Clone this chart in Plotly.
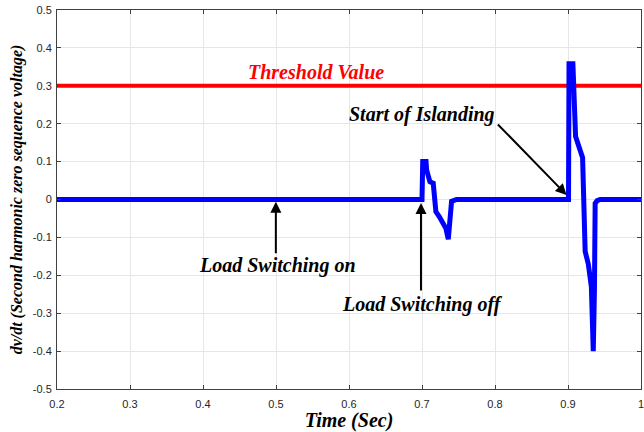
import plotly.graph_objects as go

# Time samples (s) and dv/dt of the second-harmonic zero-sequence voltage
time_s = [0.2, 0.700, 0.7010, 0.7055, 0.7063, 0.7108, 0.7154, 0.7190, 0.7236,
          0.7280, 0.7327, 0.7360, 0.7380, 0.7405, 0.7474,
          0.9007, 0.9014, 0.9067, 0.9104, 0.9187, 0.9200, 0.9235, 0.9278,
          0.9320, 0.9346, 0.9362, 0.9372, 0.9400, 0.9440, 1.0]
dvdt = [0.0, 0.0, 0.100, 0.100, 0.078, 0.047, 0.043, -0.032, -0.045,
        -0.058, -0.076, -0.105, -0.035, -0.005, 0.0,
        0.0, 0.358, 0.358, 0.166, 0.113, 0.110, -0.137, -0.170,
        -0.230, -0.400, -0.240, -0.010, -0.003, 0.0, 0.0]

threshold = 0.30
x_ticks = [0.2, 0.3, 0.4, 0.5, 0.6, 0.7, 0.8, 0.9, 1.0]
x_tick_text = ["0.2", "0.3", "0.4", "0.5", "0.6", "0.7", "0.8", "0.9", "1"]
y_ticks = [-0.5, -0.4, -0.3, -0.2, -0.1, 0.0, 0.1, 0.2, 0.3, 0.4, 0.5]
y_tick_text = ["-0.5", "-0.4", "-0.3", "-0.2", "-0.1", "0", "0.1", "0.2", "0.3", "0.4", "0.5"]

serif_bi = "Liberation Serif"
tick_font = dict(family="Liberation Sans, Arial", size=11, color="#262626")

fig = go.Figure()
fig.add_trace(go.Scatter(x=[0.2, 1.0], y=[threshold, threshold], mode="lines",
                         line=dict(color="#ff0000", width=4), showlegend=False,
                         hoverinfo="skip"))
fig.add_trace(go.Scatter(x=time_s, y=dvdt, mode="lines",
                         line=dict(color="#0000ff", width=5), showlegend=False))

def label(text, x, y, color="#000000"):
    return dict(x=x, y=y, xref="x", yref="y", text=f"<b><i>{text}</i></b>",
                showarrow=False, font=dict(family=serif_bi, size=20, color=color))

def arrow(x_tip, y_tip, x_tail, y_tail):
    return dict(x=x_tip, y=y_tip, xref="x", yref="y", ax=x_tail, ay=y_tail,
                axref="x", ayref="y", text="", showarrow=True, arrowhead=2,
                arrowsize=1.1, arrowwidth=2, arrowcolor="#000000")

annotations = [
    label("Threshold Value", 0.5546, 0.336, "#ff0000"),
    label("Start of Islanding", 0.7005, 0.223),
    arrow(0.898, 0.012, 0.802, 0.202),
    label("Load Switching on", 0.502, -0.175),
    arrow(0.4998, -0.006, 0.4998, -0.146),
    label("Load Switching off", 0.701, -0.278),
    arrow(0.6986, -0.009, 0.6986, -0.244),
]

axis_common = dict(showline=True, linecolor="#404040", linewidth=1, mirror="ticks",
                   ticks="inside", ticklen=4, tickcolor="#404040",
                   showgrid=True, gridcolor="#e6e6e6", gridwidth=1,
                   zeroline=False, tickfont=tick_font, ticklabeloverflow="allow",
                   automargin=False)

fig.update_layout(
    width=644, height=432,
    margin=dict(l=57, r=3, t=10, b=43),
    paper_bgcolor="#ffffff", plot_bgcolor="#ffffff",
    xaxis=dict(range=[0.2, 1.0], tickvals=x_ticks, ticktext=x_tick_text,
               ticklabelstandoff=5,
               title=dict(text="<b><i>Time (Sec)</i></b>", standoff=2,
                          font=dict(family=serif_bi, size=20, color="#000000")),
               **axis_common),
    yaxis=dict(range=[-0.5, 0.5], tickvals=y_ticks, ticktext=y_tick_text,
               ticklabelstandoff=2,
               title=dict(text="<b><i>dv/dt (Second harmonic zero sequence voltage)</i></b>",
                          standoff=6,
                          font=dict(family=serif_bi, size=16, color="#000000")),
               **axis_common),
    annotations=annotations,
)

fig.write_html("out.html")
